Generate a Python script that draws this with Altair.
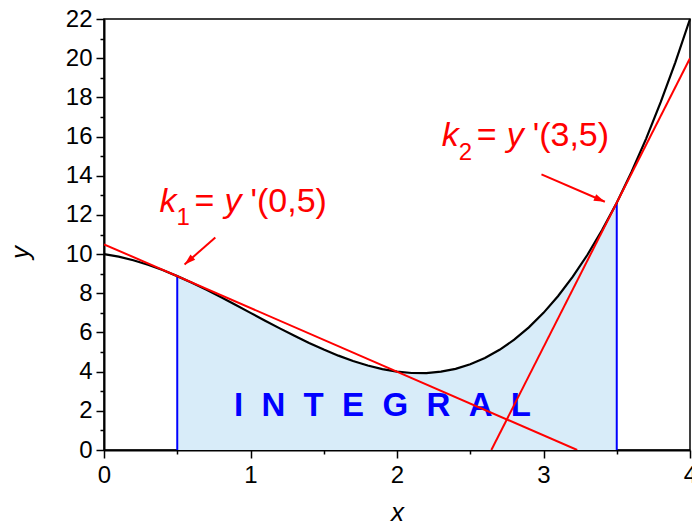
import math
import altair as alt
import pandas as pd

# Sampled curve y(x) on 0..4
curve_x = [0.0, 0.1, 0.2, 0.3, 0.4, 0.5, 0.6, 0.7, 0.8, 0.9,
           1.0, 1.1, 1.2, 1.3, 1.4, 1.5, 1.6, 1.7, 1.8, 1.9,
           2.0, 2.1, 2.2, 2.3, 2.4, 2.5, 2.6, 2.7, 2.8, 2.9,
           3.0, 3.1, 3.2, 3.3, 3.4, 3.5, 3.6, 3.7, 3.8, 3.9, 4.0]
curve_y = [10.0, 9.871, 9.688, 9.457, 9.184, 8.875, 8.536, 8.173, 7.792, 7.399,
           7.0, 6.601, 6.208, 5.827, 5.464, 5.125, 4.816, 4.543, 4.312, 4.129,
           4.0, 3.931, 3.928, 3.997, 4.144, 4.375, 4.696, 5.113, 5.632, 6.259,
           7.0, 7.861, 8.848, 9.967, 11.224, 12.625, 14.176, 15.883, 17.752, 19.789, 22.0]

# Integration limits and curve height there
bound_x = [0.5, 3.5]
bound_y = [8.875, 12.625]

# Tangent lines at x = 0.5 and x = 3.5 (end points)
tan_id = ["k1", "k1", "k2", "k2"]
tan_x = [0.0, 3.23, 2.644, 4.0]
tan_y = [10.5, 0.0, 0.0, 20.0]

# Pointer arrows: start -> tip
arrow_x0 = [0.760, 2.986]
arrow_y0 = [10.85, 14.07]
arrow_x1 = [0.550, 3.419]
arrow_y1 = [9.47, 12.67]

# Formula labels
label_sub = ["1", "2"]
label_arg = ["'(0,5)", "'(3,5)"]
label_x = [0.379, 2.305]
label_y = [12.16, 15.51]

area_text = "\u00a0\u00a0".join("INTEGRAL")

x_ticks = [0, 0.5, 1, 1.5, 2, 2.5, 3, 3.5, 4]
y_ticks = list(range(0, 23))

RED = "#ff0000"
BLUE = "#0000ff"
FILL = "#d8ecf9"
FONT = "Liberation Sans"

W, H = 586, 431
PX_X = W / 4.0
PX_Y = H / 22.0

curve = pd.DataFrame({"x": curve_x, "y": curve_y})
bounds = pd.DataFrame({"x": bound_x, "y0": [0.0, 0.0], "y": bound_y})
tangents = pd.DataFrame({"id": tan_id, "x": tan_x, "y": tan_y})
arrows = pd.DataFrame({"x": arrow_x0, "y": arrow_y0, "x2": arrow_x1, "y2": arrow_y1})
arrows["angle"] = [
    math.degrees(math.atan2((a1 - a0) * PX_X, (b1 - b0) * PX_Y)) % 360
    for a0, b0, a1, b1 in zip(arrow_x0, arrow_y0, arrow_x1, arrow_y1)
]
labels = pd.DataFrame({"x": label_x, "y": label_y, "sub": label_sub, "arg": label_arg})

x_axis = alt.Axis(
    values=x_ticks,
    tickCount=50,
    labelExpr="datum.value % 1 ? '' : format(datum.value, 'd')",
    tickSize={"condition": {"test": "datum.value % 1 != 0", "value": 4}, "value": 8},
    labelPadding=5,
    labelFlush=False,
    title="x",
    titleFontStyle="italic",
    titleFontWeight="normal",
    titleFontSize=26,
    titleX=293,
    titleY=70,
    titleBaseline="alphabetic",
    grid=False,
    labelOverlap=False,
)
y_axis = alt.Axis(
    values=y_ticks,
    tickCount=50,
    labelExpr="datum.value % 2 ? '' : format(datum.value, 'd')",
    tickSize={"condition": {"test": "datum.value % 2 == 1", "value": 4}, "value": 8},
    labelPadding=4,
    labelFlush=False,
    title="y",
    titleFontStyle="italic",
    titleFontWeight="normal",
    titleFontSize=26,
    titleAngle=270,
    titleX=-76,
    titleY=233,
    titleAlign="center",
    titleBaseline="alphabetic",
    grid=False,
    labelOverlap=False,
)

xs = alt.Scale(domain=[0, 4], nice=False, zero=False)
ys = alt.Scale(domain=[0, 22], nice=False, zero=False)
X = alt.X("x:Q", scale=xs, axis=x_axis)
Y = alt.Y("y:Q", scale=ys, axis=y_axis)

area = alt.Chart(curve).transform_filter(
    (alt.datum.x >= 0.5) & (alt.datum.x <= 3.5)
).mark_area(color=FILL, opacity=1).encode(x=X, y=Y)

limits = alt.Chart(bounds).mark_rule(color=BLUE, strokeWidth=2).encode(
    x=X, y=alt.Y("y0:Q", scale=ys), y2="y:Q"
)

word = alt.Chart(pd.DataFrame({"x": [0.887], "y": [1.735]})).mark_text(
    text=area_text, font=FONT, fontSize=33, fontWeight="bold", color=BLUE,
    align="left", baseline="alphabetic",
).encode(x=X, y=Y)

line = alt.Chart(curve).mark_line(color="black", strokeWidth=2.2).encode(x=X, y=Y)

tan_lines = alt.Chart(tangents).mark_line(color=RED, strokeWidth=2, clip=True).encode(
    x=X, y=Y, detail="id:N"
)

arrow_shafts = alt.Chart(arrows).mark_rule(color=RED, strokeWidth=2).encode(
    x=X, y=Y, x2="x2:Q", y2="y2:Q"
)
arrow_heads = alt.Chart(arrows).mark_point(
    shape="M0,0L-0.32,1L0.32,1Z", filled=True, color=RED, size=484, opacity=1, strokeWidth=0
).encode(
    x=alt.X("x2:Q", scale=xs), y=alt.Y("y2:Q", scale=ys), angle=alt.Angle("angle:Q", scale=None)
)

def piece(text=None, field=None, dx=0, dy=0, size=34, italic=False):
    kw = dict(font=FONT, fontSize=size, color=RED, align="left", baseline="alphabetic",
              dx=dx, dy=dy, fontStyle="italic" if italic else "normal")
    if text is not None:
        kw["text"] = text
    ch = alt.Chart(labels).mark_text(**kw).encode(x=X, y=Y)
    if field is not None:
        ch = ch.encode(text=f"{field}:N")
    return ch

formula = [
    piece(text="k", italic=True),
    piece(field="sub", dx=17, dy=13.5, size=24),
    piece(text="=", dx=35),
    piece(text="y", dx=65, italic=True),
    piece(field="arg", dx=91),
]

chart = alt.layer(
    area, limits, word, line, tan_lines, arrow_shafts, arrow_heads, *formula
).properties(
    width=W, height=H,
    padding={"left": 104, "top": 19, "right": 2, "bottom": 76},
    autosize=alt.AutoSizeParams(type="none"),
).configure_view(
    stroke="black", strokeWidth=1.5
).configure_axis(
    domainColor="black", domainWidth=2, tickColor="black", tickWidth=1.5,
    labelFont=FONT, labelFontSize=24, labelColor="black",
    titleFont=FONT, titleColor="black",
)

chart.save("out.html", embed_options={"renderer": "svg", "actions": False})
